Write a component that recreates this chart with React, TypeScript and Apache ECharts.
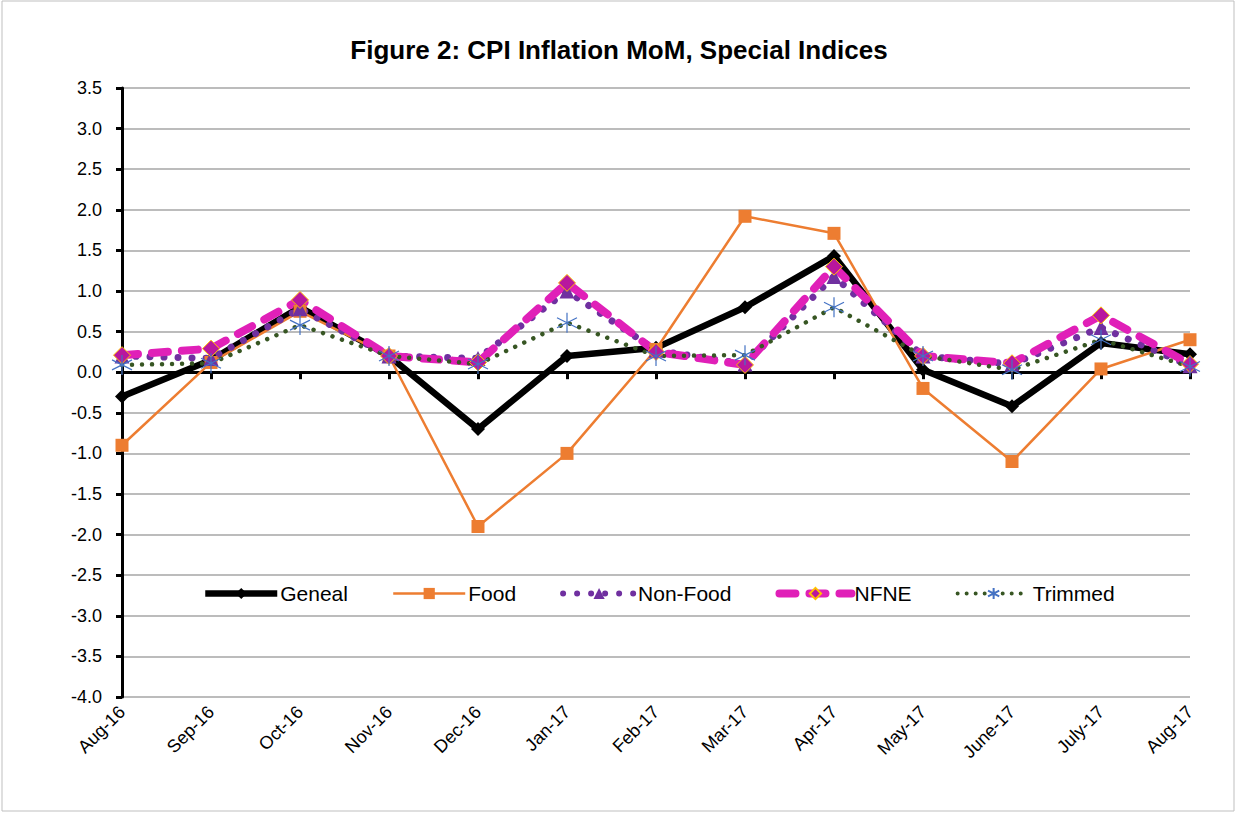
import React, { useEffect, useRef } from "react";
import * as echarts from "echarts";

const categories = ["Aug-16", "Sep-16", "Oct-16", "Nov-16", "Dec-16", "Jan-17", "Feb-17", "Mar-17", "Apr-17", "May-17", "June-17", "July-17", "Aug-17"];
const general = [-0.3, 0.15, 0.8, 0.2, -0.7, 0.2, 0.3, 0.8, 1.43, 0.03, -0.42, 0.36, 0.22];
const food = [-0.9, 0.12, 0.75, 0.2, -1.9, -1.0, 0.28, 1.92, 1.71, -0.2, -1.1, 0.04, 0.4];
const nonFood = [0.2, 0.17, 0.78, 0.2, 0.17, 1.0, 0.27, 0.1, 1.18, 0.2, 0.1, 0.55, 0.08];
const nfne = [0.21, 0.29, 0.89, 0.2, 0.12, 1.1, 0.25, 0.09, 1.3, 0.2, 0.11, 0.7, 0.1];
const trimmed = [0.09, 0.11, 0.58, 0.2, 0.1, 0.61, 0.2, 0.21, 0.8, 0.2, 0.03, 0.4, 0.07];
const yMin = -4;
const yMax = 3.5;
const yStep = 0.5;

const FONT = "'Liberation Sans', Arial, sans-serif";
const STAR = "path://M0,-10L0,10M-9,-5L9,5M-9,5L9,-5";

const styles = {
  general: { color: "#000", width: 6.5 },
  food: { color: "#ED7D31", width: 2.5 },
  nonFood: { color: "#7030A0", width: 7, type: [0.01, 14], cap: "round", join: "round" },
  nfne: { color: "#E020B8", width: 8, type: [16, 14], cap: "round", join: "round" },
  trimmed: { color: "#375623", width: 4.5, type: [0.01, 10], cap: "round", join: "round" },
};

export default function App() {
  const ref = useRef<HTMLDivElement>(null);
  useEffect(() => {
    if (!ref.current) return;
    const chart = echarts.init(ref.current, undefined, { renderer: "svg" });
    chart.setOption({
      animation: false,
      backgroundColor: "#fff",
      textStyle: { fontFamily: FONT },
      title: {
        text: "Figure 2: CPI Inflation MoM, Special Indices",
        left: "center",
        top: 32,
        textStyle: { fontFamily: FONT, fontWeight: "bold", fontSize: 26, color: "#000" },
      },
      graphic: [
        {
          type: "rect",
          shape: { x: 2, y: 1, width: 1232, height: 810 },
          style: { fill: "none", stroke: "#BFBFBF", lineWidth: 1 },
          silent: true,
        },
      ],
      legend: {
        left: 196,
        top: 578,
        itemWidth: 72,
        itemHeight: 14,
        itemGap: 44,
        backgroundColor: "#fff",
        padding: [5, 6],
        textStyle: { fontFamily: FONT, fontSize: 21, color: "#000", padding: [0, 0, 0, -2] },
        data: [
          { name: "Geneal", lineStyle: { width: 6.5 } },
          { name: "Food", lineStyle: { width: 2.5 } },
          { name: "Non-Food", lineStyle: { width: 6, type: [0.01, 14], cap: "round" } },
          { name: "NFNE", lineStyle: { width: 8, type: [16, 14], cap: "round" } },
          { name: "Trimmed", lineStyle: { width: 4, type: [0.01, 9], cap: "round" } },
        ],
      },
      grid: { left: 122, right: 48, top: 88, bottom: 117, containLabel: false },
      xAxis: {
        type: "category",
        data: categories,
        boundaryGap: false,
        axisLine: { lineStyle: { color: "#000", width: 3 } },
        axisTick: { show: true, length: 7, lineStyle: { color: "#000", width: 3 } },
        axisLabel: {
          rotate: 45,
          fontSize: 18,
          color: "#000",
          fontFamily: FONT,
          margin: 12,
          interval: 0,
        },
        splitLine: { show: false },
      },
      yAxis: {
        type: "value",
        min: yMin,
        max: yMax,
        interval: yStep,
        axisLine: { show: true, lineStyle: { color: "#000", width: 3 } },
        axisTick: { show: true, length: 6, lineStyle: { color: "#000", width: 3 } },
        axisLabel: {
          fontSize: 18,
          color: "#000",
          fontFamily: FONT,
          margin: 20,
          formatter: (v: number) => v.toFixed(1),
        },
        splitLine: { lineStyle: { color: "#A6A6A6", width: 1.5 } },
      },
      series: [
        {
          name: "Geneal",
          type: "line",
          data: general,
          symbol: "diamond",
          symbolSize: 14,
          lineStyle: styles.general,
          itemStyle: { color: "#000" },
        },
        {
          name: "Food",
          type: "line",
          data: food,
          symbol: "rect",
          symbolSize: 13,
          lineStyle: styles.food,
          itemStyle: { color: "#ED7D31" },
        },
        {
          name: "Non-Food",
          type: "line",
          data: nonFood,
          symbol: "triangle",
          symbolSize: 15,
          lineStyle: styles.nonFood,
          itemStyle: { color: "#7030A0" },
        },
        {
          name: "NFNE",
          type: "line",
          data: nfne,
          symbol: "diamond",
          symbolSize: 17,
          lineStyle: styles.nfne,
          itemStyle: { color: "#B8179E", borderColor: "#FFC000", borderWidth: 1 },
        },
        {
          name: "Trimmed",
          type: "line",
          data: trimmed,
          symbol: STAR,
          symbolSize: 20,
          lineStyle: styles.trimmed,
          itemStyle: { color: "none", borderColor: "#4472C4", borderWidth: 1.2 },
        },
      ],
    });
    return () => chart.dispose();
  }, []);
  return <div ref={ref} style={{ position: "absolute", left: 0, top: 0, width: 1238, height: 814 }} />;
}
